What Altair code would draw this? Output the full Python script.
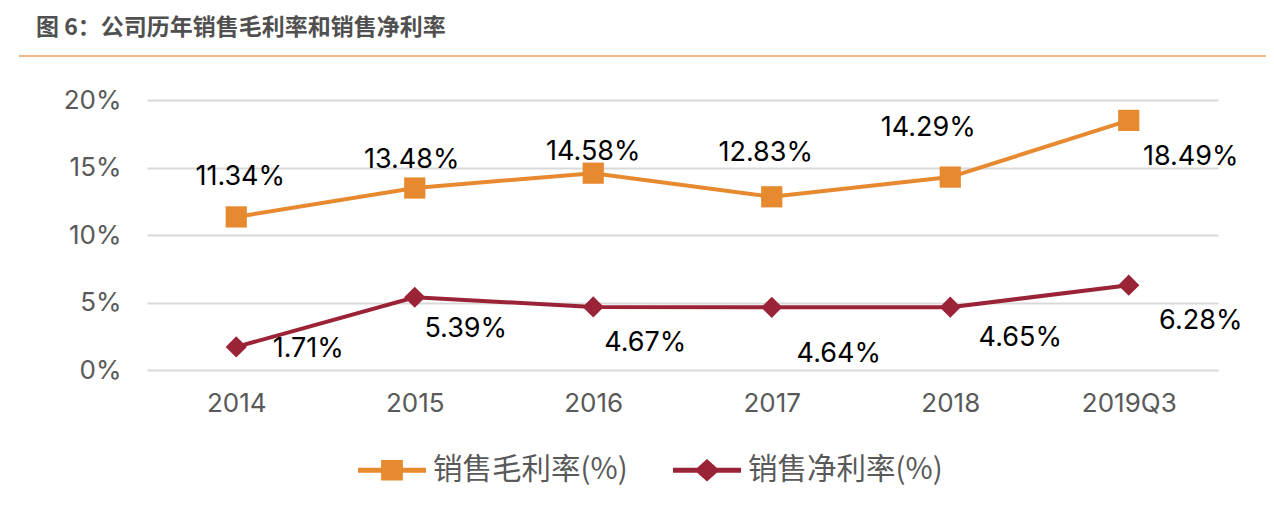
import altair as alt
import pandas as pd

categories = ["2014", "2015", "2016", "2017", "2018", "2019Q3"]
series_names = ["销售毛利率(%)", "销售净利率(%)"]
gross_margin = [11.34, 13.48, 14.58, 12.83, 14.29, 18.49]
net_margin = [1.71, 5.39, 4.67, 4.64, 4.65, 6.28]
y_ticks = [0, 5, 10, 15, 20]
title_text = "图 6：公司历年销售毛利率和销售净利率"

rows = []
for c, g, n in zip(categories, gross_margin, net_margin):
    rows.append({"cat": c, "series": series_names[0], "value": g, "label": f"{g:.2f}%"})
    rows.append({"cat": c, "series": series_names[1], "value": n, "label": f"{n:.2f}%"})
df = pd.DataFrame(rows)

ORANGE = "#E6892F"
RED = "#9B2337"
AX_GRAY = "#595959"
NUM_FONT = "Inter"
CJK_FONT = "Noto Sans CJK SC"

x_enc = alt.X("cat:N", sort=categories, title=None,
              axis=alt.Axis(labelAngle=0, labelFontSize=26, labelColor=AX_GRAY,
                            labelFont=NUM_FONT, labelPadding=20, ticks=False,
                            domain=False, grid=False))
y_enc = alt.Y("value:Q", title=None,
              scale=alt.Scale(domain=[0, 20], nice=False),
              axis=alt.Axis(values=y_ticks, labelExpr="datum.value + '%'",
                            labelFontSize=26, labelColor=AX_GRAY, labelFont=NUM_FONT,
                            labelPadding=26, ticks=False, domain=False,
                            grid=True, gridColor="#D9D9D9", gridWidth=2))


def color_scale():
    return alt.Scale(domain=series_names, range=[ORANGE, RED])


base = alt.Chart(df)

lines = base.mark_line(strokeWidth=4).encode(
    x=x_enc, y=y_enc,
    color=alt.Color("series:N", scale=color_scale(), legend=None),
    detail="series:N",
)

points = base.mark_point(filled=True, opacity=1, size=450).encode(
    x=x_enc, y=y_enc,
    color=alt.Color("series:N", scale=color_scale(), legend=None),
    shape=alt.Shape("series:N", scale=alt.Scale(domain=series_names,
                                                range=["square", "diamond"]),
                    legend=None),
)

legend_paths = [
    "M-1,-0.075H1V0.075H-1Z M-0.32,-0.3H0.32V0.3H-0.32Z",
    "M-1,-0.075H1V0.075H-1Z M0,-0.33L0.37,0L0,0.33L-0.37,0Z",
]
legend_cfg = dict(orient="none", legendX=211, legendY=336,
                  direction="horizontal", padding=0, title=None,
                  symbolSize=4624, symbolStrokeWidth=0,
                  labelFontSize=29.5, labelFont=CJK_FONT,
                  labelColor=AX_GRAY, labelOffset=7,
                  labelLimit=400, columnPadding=45)

legend_layer = base.mark_point(filled=True, opacity=1).encode(
    x=x_enc, y=y_enc,
    color=alt.Color("series:N", scale=color_scale(), title=None,
                    legend=alt.Legend(**legend_cfg)),
    shape=alt.Shape("series:N", scale=alt.Scale(domain=series_names, range=legend_paths),
                    title=None, legend=alt.Legend(**legend_cfg)),
).transform_filter("false")

# label offsets (pixels) relative to each point
gross_off = {"2014": (4, -40), "2015": (-3, -28), "2016": (0, -21),
             "2017": (-6, -44), "2018": (-22, -49), "2019Q3": (62, 37)}
net_off = {"2014": (72, 2), "2015": (51, 32), "2016": (52, 36),
           "2017": (67, 47), "2018": (70, 31), "2019Q3": (72, 36)}

label_layers = []
for sname, offs in ((series_names[0], gross_off), (series_names[1], net_off)):
    for cat, (dx, dy) in offs.items():
        label_layers.append(
            base.mark_text(fontSize=27, font=NUM_FONT, color="#000000",
                           dx=dx, dy=dy, align="center", baseline="middle")
            .encode(x=x_enc, y=y_enc, text="label:N")
            .transform_filter((alt.datum.series == sname) & (alt.datum.cat == cat))
        )

title = alt.Chart(pd.DataFrame({"t": [title_text]})).mark_text(
    font=CJK_FONT, fontSize=23, fontWeight="bold", color="#505050",
    align="left", baseline="middle"
).encode(x=alt.value(-111), y=alt.value(-72), text="t:N")

title_rule = alt.Chart(pd.DataFrame({"a": [0]})).mark_rule(
    color="#EBA163", strokeWidth=1.5
).encode(x=alt.value(-128), x2=alt.value(1119), y=alt.value(-44))

chart = alt.layer(title_rule, title, lines, points, legend_layer, *label_layers).resolve_scale(
    color="independent", shape="independent"
).properties(
    width=1071, height=270,
    autosize=alt.AutoSizeParams(type="none"),
    padding={"left": 139, "top": 92, "right": 48, "bottom": 130},
).configure_view(stroke=None)

chart.save("out.html", embed_options={"renderer": "svg", "actions": False})
